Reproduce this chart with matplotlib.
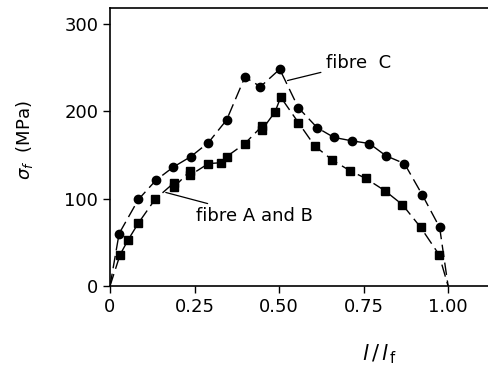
import matplotlib
matplotlib.use("Agg")
import matplotlib.pyplot as plt

# fibre C (circles)
c_x = [0.0, 0.027, 0.084, 0.136, 0.187, 0.239, 0.291, 0.345, 0.399, 0.445, 0.502,
       0.557, 0.613, 0.662, 0.716, 0.767, 0.816, 0.871, 0.924, 0.975, 1.0]
c_y = [0, 60, 99, 121, 136, 148, 164, 190, 239, 228, 248,
       204, 181, 170, 166, 163, 149, 140, 104, 67, 0]

# fibre A and B (squares)
ab_x = [0.0, 0.030, 0.054, 0.084, 0.133, 0.189, 0.189, 0.238, 0.238, 0.291, 0.327, 0.345,
        0.399, 0.450, 0.450, 0.488, 0.505, 0.557, 0.606, 0.658, 0.709, 0.757,
        0.813, 0.865, 0.919, 0.973, 1.0]
ab_y = [0, 36, 53, 72, 99, 118, 113, 132, 127, 140, 141, 148,
        163, 183, 179, 199, 216, 187, 160, 144, 132, 123,
        109, 93, 67, 36, 0]

x_ticks = [0, 0.25, 0.5, 0.75, 1.0]
x_tick_labels = ["0", "0.25", "0.50", "0.75", "1.00"]
y_ticks = [0, 100, 200, 300]
y_tick_labels = ["0", "100", "200", "300"]

plt.rcParams['font.family'] = ['DejaVu Sans']
fig = plt.figure(figsize=(4.89, 3.67), dpi=100)
W, H = 489, 367
ax = fig.add_axes([110 / W, 1 - 286 / H, (489 - 110) / W, (286 - 8) / H])

dash = (0, (9, 4))
ax.plot(c_x, c_y, color='black', lw=1.0, linestyle=dash)
ax.plot(c_x[1:-1], c_y[1:-1], 'o', color='black', ms=6, linestyle='none')
ax.plot(ab_x, ab_y, color='black', lw=1.0, linestyle=dash)
ax.plot(ab_x[1:-1], ab_y[1:-1], 's', color='black', ms=6, linestyle='none')

ax.set_xlim(0, 1.121)
ax.set_ylim(0, 318)
ax.set_xticks(x_ticks)
ax.set_xticklabels(x_tick_labels)
ax.set_yticks(y_ticks)
ax.set_yticklabels(y_tick_labels)
ax.tick_params(axis='both', direction='out', length=5, width=1, labelsize=13, colors='black')
ax.spines['right'].set_visible(False)
for s in ['left', 'bottom', 'top']:
    ax.spines[s].set_linewidth(1.2)

ax.annotate("fibre  C", xy=(0.525, 235), xytext=(0.64, 255), fontsize=13,
            va='center', ha='left',
            arrowprops=dict(arrowstyle='-', color='black', lw=0.9, shrinkA=2, shrinkB=0))
ax.annotate("fibre A and B", xy=(0.165, 107), xytext=(0.255, 80), fontsize=13,
            va='center', ha='left',
            arrowprops=dict(arrowstyle='-', color='black', lw=0.9, shrinkA=2, shrinkB=0))

fig.text(25 / W, 1 - 140 / H, r"$\sigma_f$  (MPa)", rotation=90, fontsize=13,
         ha='center', va='center')
fig.text(380 / W, 1 - 354 / H, r"$l\,/\,l_{\,\mathrm{f}}$", fontsize=15, ha='center', va='center')

fig.savefig("out.png", dpi=100)
